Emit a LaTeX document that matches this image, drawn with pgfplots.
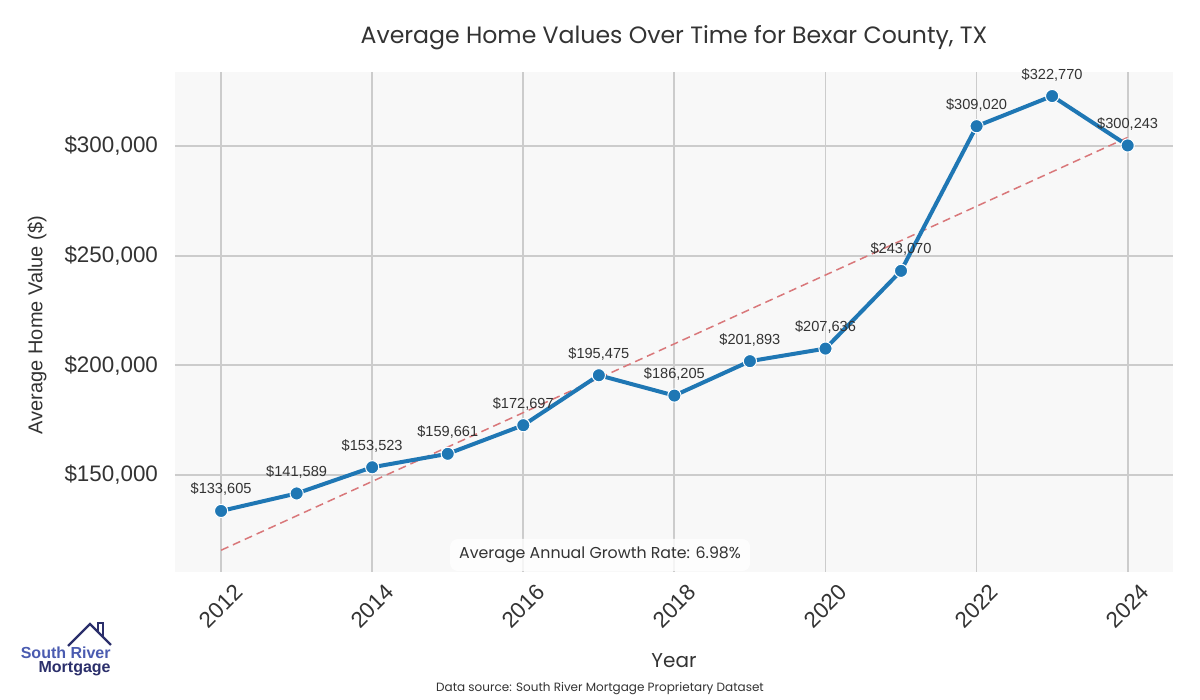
\documentclass[border=0pt]{standalone}
\usepackage{pgfplots}
\pgfplotsset{compat=1.18}
\usepackage{fontspec}
\setmainfont{Liberation Sans}
\newfontfamily\jak{Poppins}
\definecolor{lineblue}{HTML}{1F77B4}
\definecolor{trendred}{HTML}{D9777A}
\definecolor{panel}{HTML}{F8F8F8}
\definecolor{gridc}{HTML}{CCCCCC}
\definecolor{txt}{HTML}{333333}
\definecolor{logonavy}{HTML}{2B2F6B}
\definecolor{logoblue}{HTML}{4A5BB0}
\begin{document}
\begin{tikzpicture}
\path[use as bounding box] (0,0) rectangle (600pt,350pt);
\begin{axis}[
  at={(87.5pt,64pt)}, anchor=south west,
  width=499pt, height=250pt, scale only axis,
  xmin=2011.39, xmax=2024.6,
  ymin=105777, ymax=333737,
  axis background/.style={fill=panel},
  axis line style={draw=none},
  major tick length=0pt,
  xtick={2012,2014,...,2024},
  ytick={150000,200000,250000,300000},
  yticklabels={{\$150,000},{\$200,000},{\$250,000},{\$300,000}},
  xticklabels={2012,2014,2016,2018,2020,2022,2024},
  grid=major,
  major grid style={draw=gridc, line width=0.9pt},
  tick label style={font=\fontsize{11.2}{13}\selectfont, text=txt},
  xticklabel style={anchor=center, yshift=-17pt, rotate=45},
  yticklabel style={xshift=-5pt},
  scaled y ticks=false,
  clip=false,
]
\addplot[trendred, dashed, line width=0.75pt, dash pattern=on 4pt off 2.5pt] coordinates {(2012,115703) (2024,303895)};
\addplot[lineblue, line width=2pt, mark=*, mark size=3.3pt,
  mark options={fill=lineblue, draw=white, line width=0.5pt},
  nodes near coords={\$\pgfmathprintnumber[fixed, 1000 sep={,}, assume math mode=true]{\pgfplotspointmeta}},
  point meta=explicit,
  every node near coord/.style={font=\fontsize{7.3}{9}\selectfont, text=txt, anchor=south, yshift=4pt}
] table[meta=v] {
x y v
2012 133605 133605
2013 141589 141589
2014 153523 153523
2015 159661 159661
2016 172697 172697
2017 195475 195475
2018 186205 186205
2019 201893 201893
2020 207636 207636
2021 243070 243070
2022 309020 309020
2023 322770 322770
2024 300243 300243
};
\node[fill=white, fill opacity=0.8, text opacity=1, rounded corners=4pt, minimum width=150pt, minimum height=16pt, inner sep=2pt, font=\jak\fontsize{7.9}{10}\selectfont, text=txt] at (rel axis cs:0.4259,0.034) {Average Annual Growth Rate: 6.98\%};
\end{axis}
\node[font=\jak\fontsize{11.8}{14}\selectfont, text=txt] at (337pt,331pt) {Average Home Values Over Time for Bexar County, TX};
\node[font=\jak\fontsize{10}{12}\selectfont, text=txt] at (337pt,19.5pt) {Year};
\node[font=\jak\fontsize{6}{8}\selectfont, text=txt] at (300pt,5.5pt) {Data source: South River Mortgage Proprietary Dataset};
\node[rotate=90, font=\fontsize{10}{12}\selectfont, text=txt] at (18.5pt,187.5pt) {Average Home Value (\$)};
% logo
\draw[logonavy, line width=1.2pt, line join=miter] (34pt,27pt) -- (45pt,38pt) -- (55.5pt,27.5pt);
\draw[logonavy, line width=1.2pt] (49pt,34pt) -- (49pt,38.5pt) -- (51.5pt,38.5pt) -- (51.5pt,31.5pt);
\node[anchor=east, font=\bfseries\fontsize{8}{9}\selectfont, text=logoblue, inner sep=0pt] at (55.5pt,23.5pt) {South River};
\node[anchor=east, font=\bfseries\fontsize{8}{9}\selectfont, text=logonavy, inner sep=0pt] at (55.5pt,15.5pt) {Mortgage};
\end{tikzpicture}
\end{document}
